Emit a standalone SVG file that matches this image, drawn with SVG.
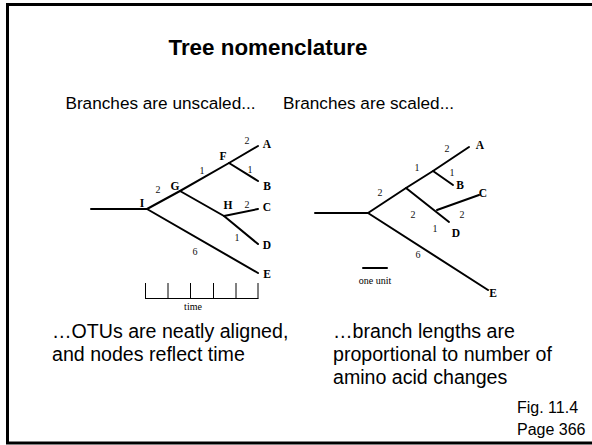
<svg xmlns="http://www.w3.org/2000/svg" width="592" height="445" viewBox="0 0 592 445">
<style>
.sans{font-family:"Liberation Sans",Arial,sans-serif;fill:#000}
.title{font-size:22.4px;font-weight:bold}
.sub{font-size:17.2px}
.body{font-size:19.6px}
.fig{font-size:16px}
.lab{font-family:"Liberation Serif","Times New Roman",serif;font-weight:bold;font-size:11.5px;fill:#000}
.num{font-family:"Liberation Serif","Times New Roman",serif;font-size:10px;fill:#111}
.small{font-family:"Liberation Serif","Times New Roman",serif;font-size:10px;fill:#000}
.br{stroke:#000;stroke-width:2;fill:none;stroke-linecap:round;stroke-linejoin:round}
.tk{stroke:#000;stroke-width:1;fill:none}
</style>
<rect x="0" y="0" width="592" height="445" fill="#fff"/>
<rect x="7.5" y="4.5" width="600" height="438.5" fill="none" stroke="#000" stroke-width="3"/>
<text class="sans title" x="268" y="55" text-anchor="middle">Tree nomenclature</text>
<text class="sans sub" x="160.5" y="109" text-anchor="middle">Branches are unscaled...</text>
<text class="sans sub" x="368.5" y="109" text-anchor="middle">Branches are scaled...</text>

<g id="connectors">
  <g id="tree-unscaled">
    <path class="br" d="M91,209 H147"/>
    <path class="br" d="M147,209 L180,191 L229,163 L258,146"/>
    <path class="br" d="M229,163 L258,181"/>
    <path class="br" d="M180,191 L224,216 L258,244"/>
    <path class="br" d="M224,216 L258,209"/>
    <path class="br" d="M147,209 L258,273"/>
  </g>
  <g id="tree-scaled">
    <path class="br" d="M315,213 H368"/>
    <path class="br" d="M368,213 L406,188 L433,171 L469,147"/>
    <path class="br" d="M433,171 L453,185"/>
    <path class="br" d="M406,188 L449,222"/>
    <path class="br" d="M437,210 L479,195"/>
    <path class="br" d="M368,213 L488,290"/>
  </g>
</g>

<g id="node-I"><text class="lab" x="142" y="207" text-anchor="middle">I</text></g>
<g id="node-G"><text class="lab" x="175" y="190" text-anchor="middle">G</text></g>
<g id="node-F"><text class="lab" x="223" y="160" text-anchor="middle">F</text></g>
<g id="node-H"><text class="lab" x="228" y="209" text-anchor="middle">H</text></g>
<g id="node-A1"><text class="lab" x="267" y="148" text-anchor="middle">A</text></g>
<g id="node-B1"><text class="lab" x="267" y="190" text-anchor="middle">B</text></g>
<g id="node-C1"><text class="lab" x="267" y="211" text-anchor="middle">C</text></g>
<g id="node-D1"><text class="lab" x="267" y="249" text-anchor="middle">D</text></g>
<g id="node-E1"><text class="lab" x="267" y="278" text-anchor="middle">E</text></g>

<g id="nums-unscaled">
  <text class="num" x="247" y="144" text-anchor="middle">2</text>
  <text class="num" x="202" y="174" text-anchor="middle">1</text>
  <text class="num" x="250" y="173" text-anchor="middle">1</text>
  <text class="num" x="158" y="193" text-anchor="middle">2</text>
  <text class="num" x="247" y="208" text-anchor="middle">2</text>
  <text class="num" x="237" y="241" text-anchor="middle">1</text>
  <text class="num" x="195" y="255" text-anchor="middle">6</text>
</g>

<g id="time-scale">
  <path class="tk" d="M145,298.5 H258.5 M145.5,283 V298.5 M168,283 V298.5 M190.5,283 V298.5 M213.5,283 V298.5 M236,283 V298.5 M258,283 V298.5"/>
  <text class="small" x="193" y="310" text-anchor="middle">time</text>
</g>

<g id="node-A2"><text class="lab" x="480" y="149" text-anchor="middle">A</text></g>
<g id="node-B2"><text class="lab" x="460" y="189" text-anchor="middle">B</text></g>
<g id="node-C2"><text class="lab" x="483" y="197" text-anchor="middle">C</text></g>
<g id="node-D2"><text class="lab" x="456" y="237" text-anchor="middle">D</text></g>
<g id="node-E2"><text class="lab" x="493" y="297" text-anchor="middle">E</text></g>

<g id="nums-scaled">
  <text class="num" x="447" y="152" text-anchor="middle">2</text>
  <text class="num" x="417" y="171" text-anchor="middle">1</text>
  <text class="num" x="452" y="176" text-anchor="middle">1</text>
  <text class="num" x="380" y="196" text-anchor="middle">2</text>
  <text class="num" x="413" y="218" text-anchor="middle">2</text>
  <text class="num" x="462" y="218" text-anchor="middle">2</text>
  <text class="num" x="435" y="232" text-anchor="middle">1</text>
  <text class="num" x="418" y="258" text-anchor="middle">6</text>
</g>

<g id="unit-bar">
  <path class="br" d="M363,268 H387" stroke-linecap="butt"/>
  <text class="small" x="375" y="284" text-anchor="middle">one unit</text>
</g>

<text class="sans body" x="52" y="338">…OTUs are neatly aligned,</text>
<text class="sans body" x="52" y="361">and nodes reflect time</text>
<text class="sans body" x="333" y="338">…branch lengths are</text>
<text class="sans body" x="333" y="361">proportional to number of</text>
<text class="sans body" x="333" y="384">amino acid changes</text>

<text class="sans fig" x="517" y="413">Fig. 11.4</text>
<text class="sans fig" x="517" y="435">Page 366</text>
</svg>
